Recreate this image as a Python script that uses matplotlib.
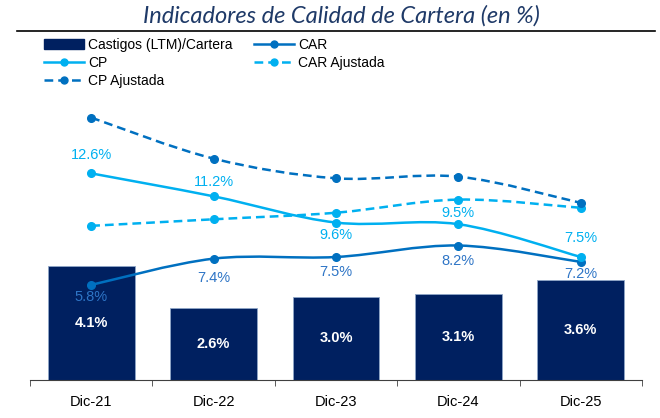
import matplotlib
matplotlib.use("Agg")
import matplotlib.pyplot as plt
from matplotlib.path import Path
from matplotlib.patches import PathPatch, Patch
from matplotlib.lines import Line2D

############################################################################
# Data
############################################################################

periodos    = ["Dic-21", "Dic-22", "Dic-23", "Dic-24", "Dic-25"]
castigos    = [4.1, 2.6, 3.0, 3.1, 3.6]
car         = [5.8, 7.4, 7.5, 8.2, 7.2]
cp          = [12.6, 11.2, 9.6, 9.5, 7.5]
car_ajust   = [9.4, 9.8, 10.2, 11.0, 10.5]
cp_ajust    = [16.0, 13.5, 12.3, 12.4, 10.8]

NAVY  = "#002060"
BLUE  = "#0070C0"
LIGHT = "#00B0F0"

plt.rcParams["font.family"] = ["Liberation Sans", "DejaVu Sans"]


def smooth(xs, ys):
    # bezier path through the points (like excel smoothed lines)
    n = len(xs)
    verts = [(xs[0], ys[0])]
    codes = [Path.MOVETO]
    for i in range(n - 1):
        a = max(i - 1, 0)
        d = min(i + 2, n - 1)
        c1 = (xs[i] + (xs[i + 1] - xs[a]) / 6, ys[i] + (ys[i + 1] - ys[a]) / 6)
        c2 = (xs[i + 1] - (xs[d] - xs[i]) / 6, ys[i + 1] - (ys[d] - ys[i]) / 6)
        verts += [c1, c2, (xs[i + 1], ys[i + 1])]
        codes += [Path.CURVE4] * 3
    return Path(verts, codes)


fig = plt.figure(figsize=(6.6, 4.18), dpi=100)
ax = fig.add_axes([30 / 660, 1 - 380 / 418, 612 / 660, 278 / 418])
ax2 = ax.twinx()

x = list(range(len(periodos)))

# Bars
ax.bar(x, castigos, width=0.71, color=NAVY, edgecolor="#8FA6C8", linewidth=0.6, zorder=2)
for xi, v in zip(x, castigos):
    ax.text(xi, v / 2, f"{v:.1f}%", ha="center", va="center", color="white",
            fontsize=10.5, fontweight="bold", zorder=3)

ax.set_xlim(-0.5, 4.5)
ax.set_ylim(0, 10)
ax.set_xticks(x)
ax.set_xticklabels(periodos, fontsize=10.5)
ax.set_xticks([i - 0.5 for i in range(len(periodos) + 1)], minor=True)
ax.tick_params(axis="x", which="major", length=0, pad=11)
ax.tick_params(axis="x", which="minor", length=4, direction="out", color="#404040")
ax.set_yticks([])
for s in ["top", "left", "right"]:
    ax.spines[s].set_visible(False)
    ax2.spines[s].set_visible(False)
ax2.spines["bottom"].set_visible(False)
ax.spines["bottom"].set_color("#404040")
ax2.set_yticks([])
ax2.set_ylim(0, 278 / 16.4)

# Lines
series = [
    (car, BLUE, "-"),
    (cp, LIGHT, "-"),
    (car_ajust, LIGHT, (0, (3.5, 2))),
    (cp_ajust, BLUE, (0, (3.5, 2))),
]
for ys, col, ls in series:
    ax2.add_patch(PathPatch(smooth(x, ys), fill=False, edgecolor=col, lw=1.8, linestyle=ls, zorder=3))
    ax2.plot(x, ys, "o", color=col, ms=5.5, zorder=4)

# labels CP
cp_off = [13, 10, -9, 8, 14]
for xi, v, o in zip(x, cp, cp_off):
    ax2.annotate(f"{v:.1f}%", (xi, v), xytext=(0, o), textcoords="offset points",
                 ha="center", va="center", color=LIGHT, fontsize=10.5)
# labels CAR
car_off = [-9, -14, -11, -11, -9]
for xi, v, o in zip(x, car, car_off):
    ax2.annotate(f"{v:.1f}%", (xi, v), xytext=(0, o), textcoords="offset points",
                 ha="center", va="center", color="#2E75C6", fontsize=10.5)

# Title and rule
fig.text(0.518, 1 - 16 / 418, "Indicadores de Calidad de Cartera (en %)", ha="center", va="center",
         fontsize=17, style="italic", color="#1F3A68", family=["Lato", "DejaVu Sans"])
fig.add_artist(Line2D([17 / 660, 655 / 660], [1 - 31 / 418] * 2, color="black", lw=1.2))

# Legend
handles = [
    Patch(facecolor=NAVY, edgecolor=NAVY),
    Line2D([], [], color=LIGHT, lw=1.8, marker="o", ms=5),
    Line2D([], [], color=BLUE, lw=1.8, marker="o", ms=5, ls=(0, (3.5, 2))),
    Line2D([], [], color=BLUE, lw=1.8, marker="o", ms=5),
    Line2D([], [], color=LIGHT, lw=1.8, marker="o", ms=5, ls=(0, (3.5, 2))),
]
labels = ["Castigos (LTM)/Cartera", "CP", "CP Ajustada", "CAR", "CAR Ajustada"]
fig.legend(handles, labels, ncol=2, loc="upper left", bbox_to_anchor=(44 / 660, 1 - 38 / 418),
           frameon=False, fontsize=10, handlelength=2.9, handleheight=0.75, labelspacing=0.3,
           columnspacing=1.5, handletextpad=0.3, borderaxespad=0, borderpad=0)

fig.savefig("out.png", dpi=100)
